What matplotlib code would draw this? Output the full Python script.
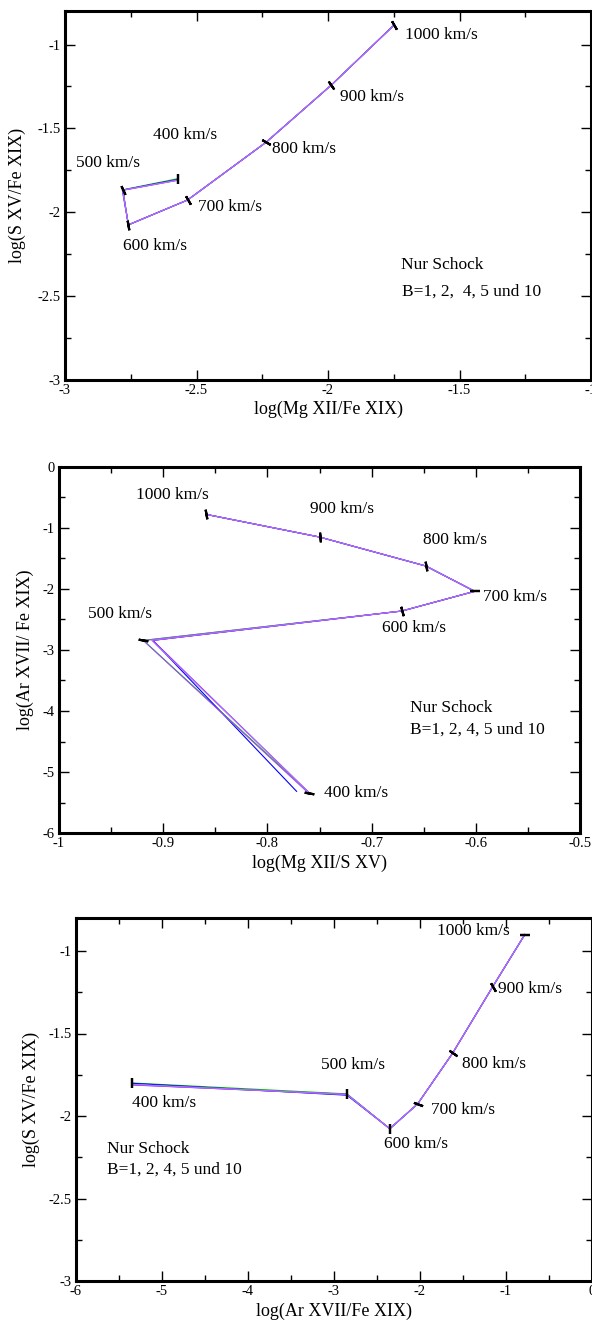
import matplotlib
matplotlib.use("Agg")
import matplotlib.pyplot as plt
from matplotlib.ticker import MultipleLocator, FormatStrFormatter

plt.rcParams['font.family'] = ['Liberation Serif', 'DejaVu Serif']
plt.rcParams['axes.unicode_minus'] = False

speeds = [400, 500, 600, 700, 800, 900, 1000]
speed_labels = [str(v) + " km/s" for v in speeds]
b_values = [1, 2, 4, 5, 10]

# panel 1: log(Mg XII/Fe XIX) vs log(S XV/Fe XIX), one row per B
p1_x = [[-2.572, -2.780, -2.759, -2.534, -2.235, -1.987, -1.750],
        [-2.572, -2.782, -2.759, -2.534, -2.235, -1.987, -1.752],
        [-2.572, -2.780, -2.759, -2.534, -2.235, -1.987, -1.750],
        [-2.574, -2.780, -2.759, -2.534, -2.235, -1.987, -1.750],
        [-2.572, -2.781, -2.759, -2.534, -2.235, -1.987, -1.750]]
p1_y = [[-1.800, -1.866, -2.075, -1.927, -1.582, -1.241, -0.886],
        [-1.805, -1.868, -2.075, -1.927, -1.582, -1.241, -0.888],
        [-1.808, -1.868, -2.075, -1.927, -1.582, -1.241, -0.886],
        [-1.810, -1.869, -2.075, -1.927, -1.582, -1.241, -0.886],
        [-1.809, -1.868, -2.075, -1.927, -1.582, -1.241, -0.886]]

# panel 2: log(Mg XII/S XV) vs log(Ar XVII/Fe XIX)
p2_x = [[-0.760, -0.919, -0.671, -0.601, -0.648, -0.750, -0.859],
        [-0.772, -0.910, -0.671, -0.601, -0.648, -0.750, -0.859],
        [-0.760, -0.910, -0.671, -0.601, -0.648, -0.750, -0.859],
        [-0.761, -0.919, -0.671, -0.601, -0.648, -0.750, -0.859],
        [-0.760, -0.911, -0.671, -0.601, -0.648, -0.750, -0.859]]
p2_y = [[-5.339, -2.842, -2.361, -2.038, -1.623, -1.148, -0.776],
        [-5.317, -2.842, -2.361, -2.038, -1.623, -1.148, -0.776],
        [-5.339, -2.842, -2.361, -2.038, -1.623, -1.148, -0.776],
        [-5.339, -2.845, -2.361, -2.038, -1.623, -1.148, -0.776],
        [-5.339, -2.842, -2.361, -2.038, -1.623, -1.148, -0.776]]

# panel 3: log(Ar XVII/Fe XIX) vs log(S XV/Fe XIX)
p3_x = [[-5.345, -2.847, -2.349, -2.026, -1.619, -1.153, -0.780],
        [-5.345, -2.847, -2.349, -2.026, -1.619, -1.153, -0.780],
        [-5.345, -2.847, -2.349, -2.026, -1.619, -1.153, -0.780],
        [-5.345, -2.847, -2.349, -2.026, -1.619, -1.153, -0.780],
        [-5.345, -2.847, -2.349, -2.026, -1.619, -1.153, -0.780]]
p3_y = [[-1.800, -1.866, -2.077, -1.927, -1.619, -1.216, -0.900],
        [-1.802, -1.874, -2.077, -1.927, -1.619, -1.216, -0.900],
        [-1.812, -1.868, -2.077, -1.927, -1.619, -1.216, -0.900],
        [-1.810, -1.870, -2.077, -1.927, -1.619, -1.216, -0.900],
        [-1.808, -1.869, -2.077, -1.927, -1.619, -1.216, -0.900]]

colors = ['#00c000', '#0000ff', '#8a2be2', '#a050f0', '#b070ff']

W, H = 592, 1321
fig = plt.figure(figsize=(W / 100, H / 100), dpi=100)


def box(l, t, r, b):
    return [l / W, 1 - b / H, (r - l) / W, (b - t) / H]


def setup(ax, xlim, ylim, xmaj, xmin, ymaj, ymin, xlab, ylab, ylx, xly):
    ax.set_xlim(*xlim)
    ax.set_ylim(*ylim)
    ax.xaxis.set_major_locator(MultipleLocator(xmaj))
    ax.xaxis.set_minor_locator(MultipleLocator(xmin))
    ax.yaxis.set_major_locator(MultipleLocator(ymaj))
    ax.yaxis.set_minor_locator(MultipleLocator(ymin))
    ax.xaxis.set_major_formatter(FormatStrFormatter('%g'))
    ax.yaxis.set_major_formatter(FormatStrFormatter('%g'))
    ax.tick_params(which='both', direction='in', top=True, right=True,
                   labelsize=10.5, width=1)
    ax.tick_params(which='major', length=7, pad=3)
    ax.tick_params(which='minor', length=4)
    for s in ax.spines.values():
        s.set_linewidth(2.2)
    ax.set_xlabel(xlab, fontsize=13)
    ax.set_ylabel(ylab, fontsize=13)
    ax.yaxis.set_label_coords(ylx, 0.5)
    ax.xaxis.set_label_coords(0.5, xly)


def draw(ax, xs, ys, tick_angles):
    for i in range(len(b_values)):
        ax.plot(xs[i], ys[i], color=colors[i], lw=0.8, zorder=2 + i * 0.1)
    for j in range(len(speeds)):
        ax.plot(xs[0][j], ys[0][j], ls='none', color='black',
                marker=(2, 2, tick_angles[j]), markersize=7, mew=1.6, zorder=5)


def labels(ax, pos, note_pos, note):
    for j in range(len(speeds)):
        ax.text(pos[j][0], pos[j][1], speed_labels[j], fontsize=12.5,
                ha='left', va='center')
    ax.text(note_pos[0][0], note_pos[0][1], "Nur Schock", fontsize=12.5,
            ha='left', va='center')
    ax.text(note_pos[1][0], note_pos[1][1], note, fontsize=12.5,
            ha='left', va='center')


# panel 1
ax1 = fig.add_axes(box(65, 11, 591, 380))
setup(ax1, (-3, -1), (-3, -0.8), 0.5, 0.25, 0.5, 0.25,
      "log(Mg XII/Fe XIX)", "log(S XV/Fe XIX)", -0.074, -0.055)
draw(ax1, p1_x, p1_y, [0, 25, 10, 30, 60, 35, 30])
labels(ax1, [(-2.667, -1.542), (-2.96, -1.706), (-2.779, -2.203),
             (-2.494, -1.966), (-2.214, -1.62), (-1.955, -1.31),
             (-1.707, -0.945)],
       [(-1.723, -2.316), (-1.719, -2.475)], "B=1, 2,  4, 5 und 10")

# panel 2
ax2 = fig.add_axes(box(59, 467, 580, 833))
setup(ax2, (-1, -0.5), (-6, 0), 0.1, 0.05, 1, 0.5,
      "log(Mg XII/S XV)", "log(Ar XVII/ Fe XIX)", -0.048, -0.058)
draw(ax2, p2_x, p2_y, [80, 80, 15, 90, 10, 5, 10])
labels(ax2, [(-0.746, -5.339), (-0.972, -2.415), (-0.690, -2.639),
             (-0.593, -2.131), (-0.651, -1.191), (-0.759, -0.683),
             (-0.926, -0.464)],
       [(-0.663, -3.951), (-0.663, -4.306)], "B=1, 2, 4, 5 und 10")

# panel 3
ax3 = fig.add_axes(box(75.5, 918, 592, 1281))
setup(ax3, (-6, 0), (-3, -0.8), 1, 0.5, 0.5, 0.25,
      "log(Ar XVII/Fe XIX)", "log(S XV/Fe XIX)", -0.068, -0.06)
draw(ax3, p3_x, p3_y, [0, 0, 0, 70, 55, 30, 90])
labels(ax3, [(-5.345, -1.921), (-3.153, -1.688), (-2.419, -2.171),
             (-1.873, -1.966), (-1.511, -1.683), (-1.087, -1.230),
             (-1.795, -0.881)],
       [(-5.638, -2.202), (-5.638, -2.325)], "B=1, 2, 4, 5 und 10")

fig.savefig("out.png", dpi=100)
